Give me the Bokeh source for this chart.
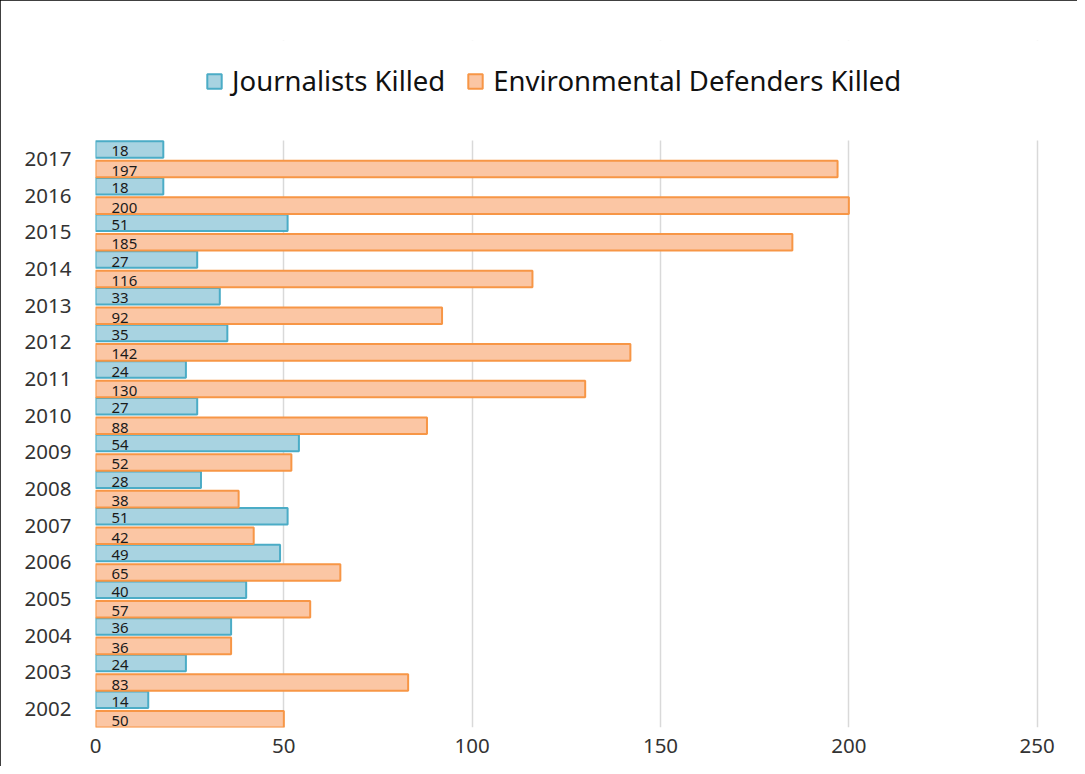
from bokeh.plotting import figure
from bokeh.models import ColumnDataSource, Range1d, Legend, LegendItem, FixedTicker, BoxAnnotation
from bokeh.transform import dodge
from bokeh.core.properties import value
from bokeh.embed import file_html
from bokeh.resources import INLINE

years = list(range(2002, 2018))
journalists = [14, 24, 36, 40, 49, 51, 28, 54, 27, 24, 35, 33, 27, 51, 18, 18]
environmental = [50, 83, 36, 57, 65, 42, 38, 52, 88, 130, 142, 92, 116, 185, 200, 197]
x_ticks = [0, 50, 100, 150, 200, 250]

src = ColumnDataSource(dict(
    year=years, j=journalists, e=environmental,
    jl=[str(v) for v in journalists], el=[str(v) for v in environmental],
))

FONT = "Noto Sans"
W, H = 1077, 766
LEFT, BOTTOM = 95, 727
DATA_TOP = 140            # pixel where the last category ends
FRAME_TOP = 40            # frame extends above so the legend sits inside it
SCALE = (1037 - 95) / 250.0
XMAX = 253
frame_right = LEFT + XMAX * SCALE
per_cat = (BOTTOM - DATA_TOP) / len(years)
y0 = years[0] - 0.5
y_cat_top = years[-1] + 0.5
y1 = y_cat_top + (DATA_TOP - FRAME_TOP) / per_cat

p = figure(width=W, height=H, output_backend="svg", toolbar_location=None,
           y_range=Range1d(y0, y1), x_range=Range1d(0, XMAX),
           min_border_left=LEFT, min_border_right=int(round(W - frame_right)),
           min_border_top=FRAME_TOP, min_border_bottom=H - BOTTOM)
p.styles = {"outline": "3px solid #000", "outline-offset": "-3px"}
p.outline_line_color = None
p.background_fill_color = "white"
p.border_fill_color = "white"

jb = p.hbar(y=dodge("year", 0.255), right="j", left=0, height=0.45,
            source=src, fill_color="#A8D3E1", line_color="#4BACC6", line_width=2)
eb = p.hbar(y=dodge("year", -0.275), right="e", left=0, height=0.45,
            source=src, fill_color="#FBC6A4", line_color="#F79646", line_width=2)

p.text(x=0, y=dodge("year", 0.255), text="jl", source=src,
       x_offset=16, y_offset=2, text_baseline="middle", text_align="left",
       text_font=value(FONT), text_font_size="15px", text_color="#1a1a1a")
p.text(x=0, y=dodge("year", -0.275), text="el", source=src,
       x_offset=16, y_offset=2, text_baseline="middle", text_align="left",
       text_font=value(FONT), text_font_size="15px", text_color="#1a1a1a")

# blank the area above the categories so grid lines stop at the plot area
p.add_layout(BoxAnnotation(bottom=y_cat_top, fill_color="white", fill_alpha=1,
                           line_color=None, level="underlay"))

p.xaxis.ticker = FixedTicker(ticks=x_ticks)
p.xgrid.ticker = FixedTicker(ticks=x_ticks)
p.xgrid.grid_line_color = "#D9D9D9"
p.xgrid.grid_line_width = 1.5
p.ygrid.grid_line_color = None
p.yaxis.ticker = FixedTicker(ticks=years)

for ax in (p.xaxis, p.yaxis):
    ax.axis_line_color = None
    ax.major_tick_line_color = None
    ax.minor_tick_line_color = None
    ax.major_tick_out = 0
    ax.major_tick_in = 0
    ax.major_label_text_font = FONT
    ax.major_label_text_font_size = "20.5px"
    ax.major_label_text_color = "#333333"
p.yaxis.major_label_standoff = 24
p.xaxis.major_label_standoff = 11

legend = Legend(items=[LegendItem(label="Journalists Killed", renderers=[jb]),
                       LegendItem(label="Environmental Defenders Killed", renderers=[eb])],
                orientation="horizontal", location=(110, 628),
                label_text_font=FONT, label_text_font_size="27.5px", label_text_color="#111111",
                glyph_width=18, glyph_height=18, label_standoff=9, spacing=21,
                padding=0, margin=0, border_line_color=None, background_fill_alpha=0)
p.add_layout(legend, "center")

open("out.html", "w").write(file_html(p, INLINE))
